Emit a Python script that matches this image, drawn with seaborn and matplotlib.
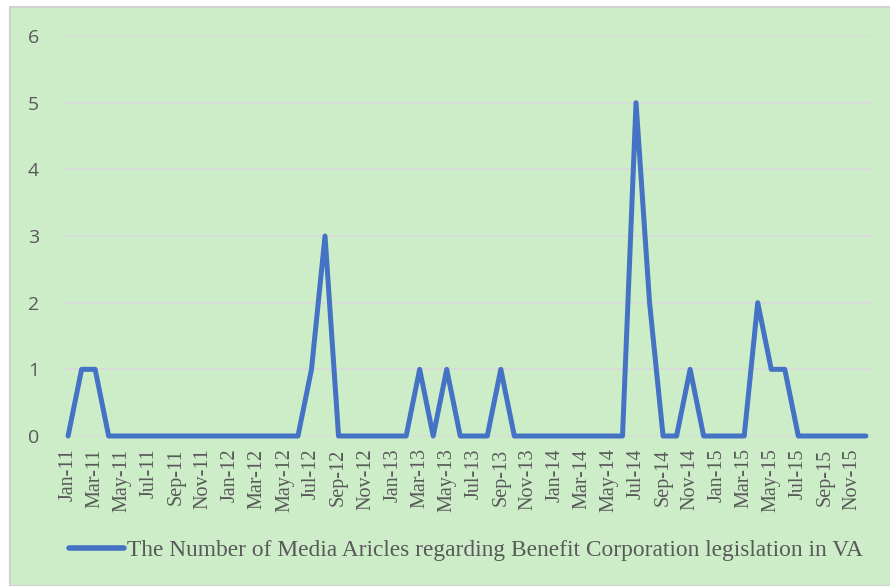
import matplotlib
matplotlib.use('Agg')
import matplotlib.pyplot as plt
from matplotlib.patches import Rectangle
import numpy as np
import pandas as pd
import seaborn as sns

# monthly article counts, Jan-11 .. Dec-15
months = pd.date_range('2011-01-01', '2015-12-01', freq='MS').strftime('%b-%y').tolist()
articles = [0, 1, 1, 0, 0, 0, 0, 0, 0, 0, 0, 0,
            0, 0, 0, 0, 0, 0, 1, 3, 0, 0, 0, 0,
            0, 0, 1, 0, 1, 0, 0, 0, 1, 0, 0, 0,
            0, 0, 0, 0, 0, 0, 5, 2, 0, 0, 1, 0,
            0, 0, 0, 2, 1, 1, 0, 0, 0, 0, 0, 0]
series_name = 'The Number of Media Aricles regarding Benefit Corporation legislation in VA'

df = pd.DataFrame({'idx': np.arange(len(months)), 'month': months, 'count': articles})

sns.set_theme(style='white')
bg = '#CDEDC9'
fig = plt.figure(figsize=(8.9, 5.86), dpi=100, facecolor='white')
fig.patches.append(Rectangle((10 / 890, 0), 1, 1 - 7 / 586, transform=fig.transFigure,
                             facecolor=bg, edgecolor='#D0D0D0', linewidth=1.5, zorder=-5))
ax = fig.add_axes([62 / 890, 1 - 436 / 586, 810 / 890, 400 / 586])
ax.patch.set_alpha(0)

sns.lineplot(data=df, x='idx', y='count', ax=ax, color='#4472C4', linewidth=3.6,
             label=series_name, legend=False, clip_on=False,
             solid_capstyle='round', solid_joinstyle='round')

ax.set_xlim(-0.45, len(months) - 0.55)
ax.set_ylim(0, 6)
ax.set_yticks(range(7))
ax.yaxis.grid(True, color='#D9D9D9', linewidth=1.2)
ax.set_axisbelow(True)
for s in ax.spines.values():
    s.set_visible(False)

ax.set_xticks(df['idx'][::2])
ax.set_xticklabels(df['month'][::2], rotation=90, family='Liberation Serif',
                   fontsize=14.5, color='#595959')
ax.tick_params(axis='x', length=0, pad=9)
ax.tick_params(axis='y', length=0, pad=16.5, labelsize=14, labelcolor='#595959')
for lab in ax.get_yticklabels():
    lab.set_family('Open Sans')
ax.set_xlabel('')
ax.set_ylabel('')

handles, labels = ax.get_legend_handles_labels()
leg = fig.legend(handles, labels, loc='center', bbox_to_anchor=(466 / 890, 1 - 550 / 586),
                 frameon=False, handlelength=2.35, handletextpad=0.12,
                 prop={'family': 'Liberation Serif', 'size': 16.8})
for t in leg.get_texts():
    t.set_color('#595959')
for h in leg.get_lines():
    h.set_linewidth(4)
    h.set_solid_capstyle('round')

fig.savefig('out.png', dpi=100, facecolor='white')
